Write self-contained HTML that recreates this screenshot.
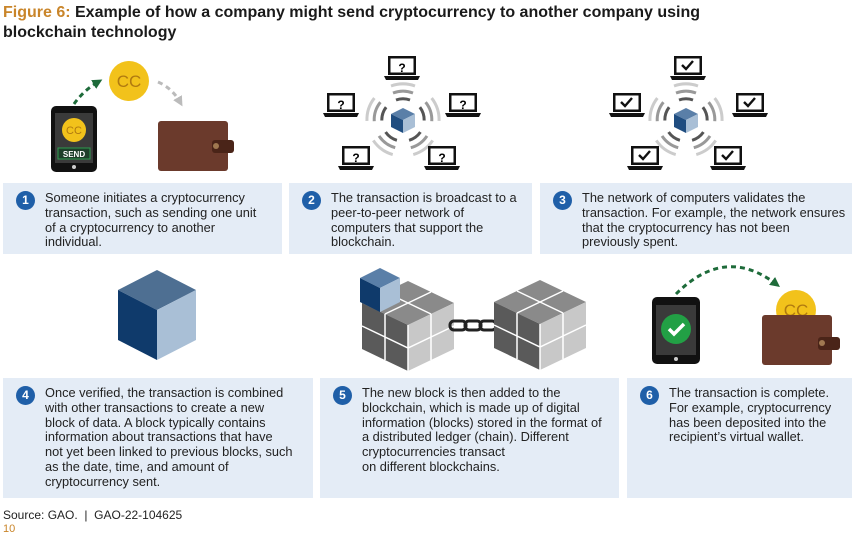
<!DOCTYPE html>
<html><head><meta charset="utf-8"><style>
body{margin:0;width:852px;height:541px;background:#fff;position:relative;overflow:hidden;font-family:"Liberation Sans",sans-serif;color:#222}
.t{position:absolute;left:3px;font-weight:bold;font-size:16px;line-height:20px;color:#1a1a1a}
.box{position:absolute;background:#e4ecf6}
.box .n{position:absolute;left:13px;top:8px;width:19px;height:19px;border-radius:50%;background:#1f5fa8;color:#fff;font-weight:bold;font-size:12px;line-height:19px;text-align:center}
.box p{position:absolute;left:42px;top:8px;margin:0;font-size:12.8px;line-height:14.8px;color:#222;white-space:nowrap}
.src{position:absolute;left:3px;top:508px;font-size:12px;color:#222}
.pg{position:absolute;left:3px;top:523px;font-size:11px;color:#c9852a}
svg{position:absolute;left:0;top:0}
</style></head><body>
<div class="t" style="top:3px"><span style="color:#c9852a">Figure 6:</span> Example of how a company might send cryptocurrency to another company using<br>blockchain technology</div>

<svg width="852" height="541">
<defs>
<g id="lap"><rect x="-14" y="-11" width="28" height="19" fill="#111"/><rect x="-11.5" y="-8.5" width="23" height="14" fill="#fff"/><path d="M-18 9h36l-2 4h-32z" fill="#111"/></g>
<g id="cube"><path d="M0 -12 L12 -6 L0 0 L-12 -6z" fill="#5a7fa8"/><path d="M-12 -6 L0 0 L0 13 L-12 7z" fill="#1f4d80"/><path d="M12 -6 L0 0 L0 13 L12 7z" fill="#a9bfd6"/></g>
<g id="big"><path d="M0 0 L46 22 L0 44 L-46 22z" fill="#8a8a8a"/><path d="M-46 22 L0 44 L0 90 L-46 68z" fill="#5a5a5a"/><path d="M46 22 L0 44 L0 90 L46 68z" fill="#c8c8c8"/>
<g stroke="#fff" stroke-width="1.5" fill="none"><path d="M-23 11 L23 33 M23 11 L-23 33 M-23 33 L-23 79 M23 33 L23 79 M-46 45 L0 67 L46 45 M0 44 L0 90"/></g></g>
<g id="sig" fill="none" stroke-linecap="butt"><path d="M-7 -20 A21 21 0 0 1 7 -20" stroke="#555" stroke-width="3"/><path d="M-10 -27 A28 28 0 0 1 10 -27" stroke="#999" stroke-width="3"/><path d="M-12 -34 A35 35 0 0 1 12 -34" stroke="#ccc" stroke-width="3"/></g>
<marker id="ag" markerUnits="userSpaceOnUse" markerWidth="10" markerHeight="10" refX="5" refY="5" orient="auto"><path d="M0 0L10 5L0 10z" fill="#1e6b3a"/></marker>
<marker id="ay" markerUnits="userSpaceOnUse" markerWidth="10" markerHeight="10" refX="5" refY="5" orient="auto"><path d="M0 0L10 5L0 10z" fill="#bbb"/></marker>
</defs>
<!-- panel 1 -->
<rect x="51" y="106" width="46" height="66" rx="5" fill="#111"/><rect x="55" y="113" width="38" height="50" fill="#3a3a3a"/>
<circle cx="74" cy="130" r="12" fill="#f2c21b"/><text x="74" y="134" font-size="11" fill="#b07a10" text-anchor="middle" font-family="Liberation Sans">CC</text>
<rect x="58" y="148" width="32" height="11" fill="#1e3e2a" stroke="#2e9a4e"/><text x="74" y="157" font-size="8" font-weight="bold" fill="#fff" text-anchor="middle" font-family="Liberation Sans">SEND</text>
<circle cx="74" cy="167" r="2" fill="#ccc"/>
<path d="M74 104 Q84 90 98 82" stroke="#1e6b3a" stroke-width="3" stroke-dasharray="5 4" fill="none" marker-end="url(#ag)"/>
<circle cx="129" cy="81" r="20" fill="#f2c21b"/><text x="129" y="87" font-size="17" fill="#b07a10" text-anchor="middle" font-family="Liberation Sans">CC</text>
<path d="M158 82 Q172 88 180 102" stroke="#bbb" stroke-width="3" stroke-dasharray="5 4" fill="none" marker-end="url(#ay)"/>
<rect x="158" y="121" width="70" height="50" rx="3" fill="#6b3a2c"/><rect x="212" y="140" width="22" height="13" rx="3" fill="#4a2418"/><circle cx="216" cy="146" r="3" fill="#a07850"/>
<!-- panel 2 -->
<g transform="translate(403,120)"><use href="#sig"/><use href="#sig" transform="rotate(72)"/><use href="#sig" transform="rotate(-72)"/><use href="#sig" transform="rotate(144)"/><use href="#sig" transform="rotate(-144)"/></g>
<use href="#cube" x="403" y="120"/>
<use href="#lap" x="402" y="67"/><use href="#lap" x="341" y="104"/><use href="#lap" x="463" y="104"/><use href="#lap" x="356" y="157"/><use href="#lap" x="442" y="157"/>
<g font-size="12" font-weight="bold" text-anchor="middle" font-family="Liberation Sans"><text x="402" y="72">?</text><text x="341" y="109">?</text><text x="463" y="109">?</text><text x="356" y="162">?</text><text x="442" y="162">?</text></g>
<!-- panel 3 -->
<g transform="translate(686,120)"><use href="#sig"/><use href="#sig" transform="rotate(72)"/><use href="#sig" transform="rotate(-72)"/><use href="#sig" transform="rotate(144)"/><use href="#sig" transform="rotate(-144)"/></g>
<use href="#cube" x="686" y="120"/>
<use href="#lap" x="688" y="67"/><use href="#lap" x="627" y="104"/><use href="#lap" x="750" y="104"/><use href="#lap" x="645" y="157"/><use href="#lap" x="728" y="157"/>
<g fill="none" stroke="#111" stroke-width="2.4"><path d="M682 65l4 4 7-8"/><path d="M621 102l4 4 7-8"/><path d="M744 102l4 4 7-8"/><path d="M639 155l4 4 7-8"/><path d="M722 155l4 4 7-8"/></g>
<!-- panel 4 -->
<path d="M157 270 L196 290 L157 310 L118 290z" fill="#4e6f92"/><path d="M118 290 L157 310 L157 360 L118 340z" fill="#0f3a6b"/><path d="M196 290 L157 310 L157 360 L196 340z" fill="#a9bfd6"/>
<!-- panel 5 -->
<use href="#big" x="408" y="281"/>
<g transform="translate(380,288)"><path d="M0 -20 L20 -10 L0 0 L-20 -10z" fill="#5a7fa8"/><path d="M-20 -10 L0 0 L0 24 L-20 14z" fill="#0f3a6b"/><path d="M20 -10 L0 0 L0 24 L20 14z" fill="#a9bfd6"/></g>
<g fill="none" stroke="#222" stroke-width="3"><rect x="450" y="321" width="16" height="9" rx="4"/><rect x="465" y="321" width="16" height="9" rx="4"/><rect x="480" y="321" width="16" height="9" rx="4"/></g>
<use href="#big" x="540" y="280"/>
<!-- panel 6 -->
<rect x="652" y="297" width="48" height="67" rx="5" fill="#111"/><rect x="656" y="305" width="40" height="50" fill="#3a3a3a"/>
<circle cx="676" cy="329" r="15" fill="#22a045"/><path d="M669 329l5 5 10-10" stroke="#fff" stroke-width="3.5" fill="none"/>
<circle cx="676" cy="359" r="2" fill="#ccc"/>
<path d="M676 294 Q725 245 776 284" stroke="#1e6b3a" stroke-width="3" stroke-dasharray="5 4" fill="none" marker-end="url(#ag)"/>
<circle cx="796" cy="310" r="20" fill="#f2c21b"/><text x="796" y="316" font-size="17" fill="#b07a10" text-anchor="middle" font-family="Liberation Sans">CC</text>
<rect x="762" y="315" width="70" height="50" rx="3" fill="#6b3a2c"/><rect x="818" y="337" width="22" height="13" rx="3" fill="#4a2418"/><circle cx="822" cy="343" r="3" fill="#a07850"/>
</svg>

<div class="box" style="left:3px;top:183px;width:279px;height:71px"><div class="n">1</div><p>Someone initiates a cryptocurrency<br>transaction, such as sending one unit<br>of a cryptocurrency to another<br>individual.</p></div>
<div class="box" style="left:289px;top:183px;width:243px;height:71px"><div class="n">2</div><p>The transaction is broadcast to a<br>peer-to-peer network of<br>computers that support the<br>blockchain.</p></div>
<div class="box" style="left:540px;top:183px;width:312px;height:71px"><div class="n">3</div><p>The network of computers validates the<br>transaction. For example, the network ensures<br>that the cryptocurrency has not been<br>previously spent.</p></div>
<div class="box" style="left:3px;top:378px;width:310px;height:120px"><div class="n">4</div><p>Once verified, the transaction is combined<br>with other transactions to create a new<br>block of data. A block typically contains<br>information about transactions that have<br>not yet been linked to previous blocks, such<br>as the date, time, and amount of<br>cryptocurrency sent.</p></div>
<div class="box" style="left:320px;top:378px;width:299px;height:120px"><div class="n">5</div><p>The new block is then added to the<br>blockchain, which is made up of digital<br>information (blocks) stored in the format of<br>a distributed ledger (chain). Different<br>cryptocurrencies transact<br>on different blockchains.</p></div>
<div class="box" style="left:627px;top:378px;width:225px;height:120px"><div class="n">6</div><p>The transaction is complete.<br>For example, cryptocurrency<br>has been deposited into the<br>recipient’s virtual wallet.</p></div>
<div class="src">Source: GAO.&nbsp; |&nbsp; GAO-22-104625</div>
<div class="pg">10</div>
</body></html>
